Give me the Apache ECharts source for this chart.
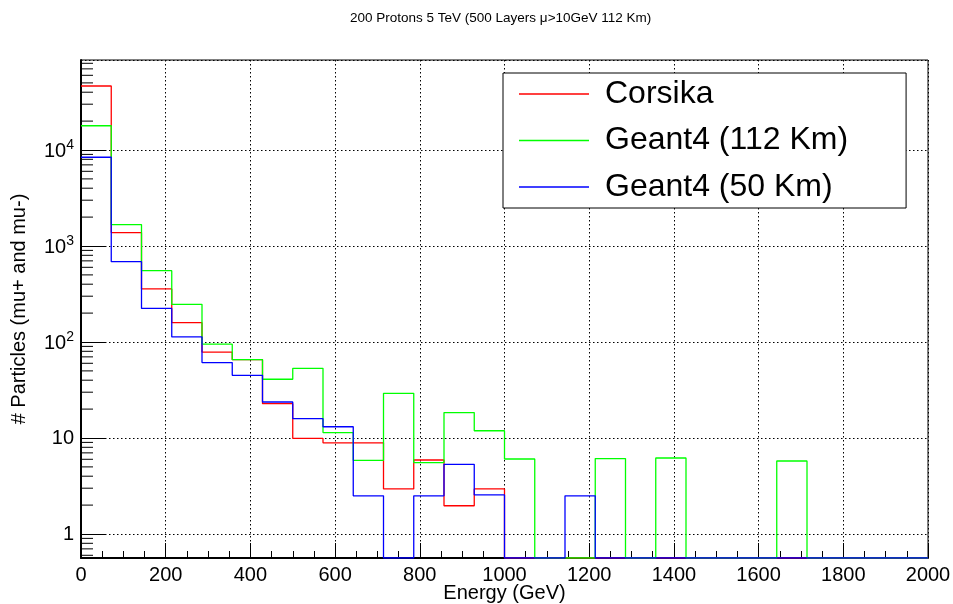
<!DOCTYPE html>
<html>
<head>
<meta charset="utf-8">
<script src="https://cdn.jsdelivr.net/npm/echarts@6/dist/echarts.min.js"></script>
<style>html,body{margin:0;padding:0;background:#fff}#c{width:953px;height:604px}</style>
</head>
<body>
<div id="c"></div>
<script>
// Histogram binning: 28 bins over 0..2000 GeV
const binEdges = [0, 71.43, 142.86, 214.29, 285.71, 357.14, 428.57, 500, 571.43, 642.86, 714.29, 785.71, 857.14, 928.57, 1000,
  1071.43, 1142.86, 1214.29, 1285.71, 1357.14, 1428.57, 1500, 1571.43, 1642.86, 1714.29, 1785.71, 1857.14, 1928.57, 2000];
const seriesNames = ['Corsika', 'Geant4 (112 Km)', 'Geant4 (50 Km)'];
const corsika  = [46400, 1380, 357, 159, 78.5, 65.5, 22.8, 9.9, 8.9, 8.9, 2.95, 5.9, 1.97, 2.95, 0, 0, 0, 0, 0, 0, 0, 0, 0, 0, 0, 0, 0, 0];
const geant112 = [17900, 1670, 553, 247, 95, 65.5, 40.9, 53.2, 11.4, 5.85, 29.2, 5.55, 18.4, 11.9, 6.04, 0, 0, 6.1, 0, 6.19, 0, 0, 0, 5.76, 0, 0, 0, 0];
const geant50  = [8400, 687, 224, 113, 61, 45, 23.7, 15.9, 13.1, 2.5, 0, 2.5, 5.32, 2.55, 0, 0, 2.5, 0, 0, 0, 0, 0, 0, 0, 0, 0, 0, 0];
const xTicks = [0, 200, 400, 600, 800, 1000, 1200, 1400, 1600, 1800, 2000];
const yMin = 0.5623, yMax = 86600;
const yMinorTicks = [0.6, 0.7, 0.8, 0.9, 2, 3, 4, 5, 6, 7, 8, 9, 20, 30, 40, 50, 60, 70, 80, 90,
  200, 300, 400, 500, 600, 700, 800, 900, 2000, 3000, 4000, 5000, 6000, 7000, 8000, 9000,
  20000, 30000, 40000, 50000, 60000, 70000, 80000];
const colors = ['#ff0000', '#00ff00', '#0000ff'];

function stepData(vals) {
  const d = vals.map((v, i) => [binEdges[i], Math.max(v, yMin)]);
  d.push([binEdges[binEdges.length - 1], Math.max(vals[vals.length - 1], yMin)]);
  return d;
}

const font = 'Liberation Sans, Arial, Helvetica, sans-serif';
const chart = echarts.init(document.getElementById('c'), null, {renderer: 'canvas'});
const dotted = {color: '#000', width: 1, type: [1.5, 2.5]};

const lineSeries = [corsika, geant112, geant50].map((vals, k) => ({
  name: seriesNames[k], type: 'line', step: 'end', symbol: 'none', showSymbol: false,
  data: stepData(vals), lineStyle: {color: colors[k], width: 1.3}, itemStyle: {color: colors[k]},
  z: 3 + k, animation: false
}));

chart.setOption({
  animation: false,
  backgroundColor: '#fff',
  textStyle: {fontFamily: font},
  title: {text: '200 Protons 5 TeV (500 Layers \u03bc>10GeV 112 Km)', left: 350, top: 11, padding: 0,
    textStyle: {fontSize: 13.5, fontWeight: 'normal', color: '#000', fontFamily: font}},
  grid: {left: 81, right: 25, top: 60, bottom: 46, show: true, borderColor: '#000', borderWidth: 1,
    backgroundColor: 'transparent', containLabel: false, outerBoundsMode: 'none'},
  legend: {
    data: seriesNames, orient: 'vertical', left: 503, top: 73,
    padding: [5, 58, 5, 16], itemGap: 14.5, itemWidth: 70, itemHeight: 1.6, icon: 'rect',
    backgroundColor: '#fff', borderColor: '#000', borderWidth: 1,
    textStyle: {fontSize: 32, color: '#000', fontFamily: font, padding: [0, 0, 0, 11], lineHeight: 30},
    selectedMode: false
  },
  xAxis: {
    type: 'value', min: xTicks[0], max: xTicks[xTicks.length - 1], interval: 200,
    axisLine: {show: true, onZero: false, lineStyle: {color: '#000', width: 2}},
    axisTick: {show: true, inside: true, length: 15, lineStyle: {color: '#000', width: 1}},
    minorTick: {show: true, splitNumber: 4, length: 7, lineStyle: {color: '#000', width: 1}},
    axisLabel: {fontSize: 20, color: '#000', margin: 7, fontFamily: font, showMinLabel: true, showMaxLabel: true,
      formatter: v => String(v)},
    splitLine: {show: true, lineStyle: dotted},
    name: 'Energy (GeV)', nameLocation: 'middle', nameGap: 25, nameMoveOverlap: false,
    nameTextStyle: {fontSize: 20, color: '#000', fontFamily: font}
  },
  yAxis: {
    type: 'log', logBase: 10, min: yMin, max: yMax,
    axisLine: {show: true, onZero: false, lineStyle: {color: '#000', width: 2}},
    axisTick: {show: true, inside: true, length: 24, lineStyle: {color: '#000', width: 1}},
    axisLabel: {
      fontSize: 20, color: '#000', margin: 7, fontFamily: font, showMinLabel: false, showMaxLabel: false,
      formatter: function (v) {
        const l = Math.log10(v), e = Math.round(l);
        if (Math.abs(l - e) > 1e-6) return '';
        if (e === 0) return '1';
        if (e === 1) return '10';
        return '{b|10}{s|' + e + '}';
      },
      rich: {
        b: {fontSize: 20, color: '#000', fontFamily: font, lineHeight: 23, verticalAlign: 'bottom'},
        s: {fontSize: 14, color: '#000', fontFamily: font, lineHeight: 14, verticalAlign: 'top'}
      }
    },
    splitLine: {show: true, lineStyle: dotted},
    name: '# Particles (mu+ and mu-)', nameLocation: 'middle', nameGap: 52, nameMoveOverlap: false,
    nameTextStyle: {fontSize: 20, color: '#000', fontFamily: font}
  },
  series: lineSeries.concat([{
    type: 'custom', name: 'yminor', silent: true, z: 10,
    data: yMinorTicks.map(v => [0, v]),
    renderItem: function (params, api) {
      const p = api.coord([api.value(0), api.value(1)]);
      return {type: 'line', shape: {x1: p[0], y1: p[1], x2: p[0] + 12, y2: p[1]},
        style: {stroke: '#000', lineWidth: 1}};
    }
  }])
});
</script>
</body>
</html>
